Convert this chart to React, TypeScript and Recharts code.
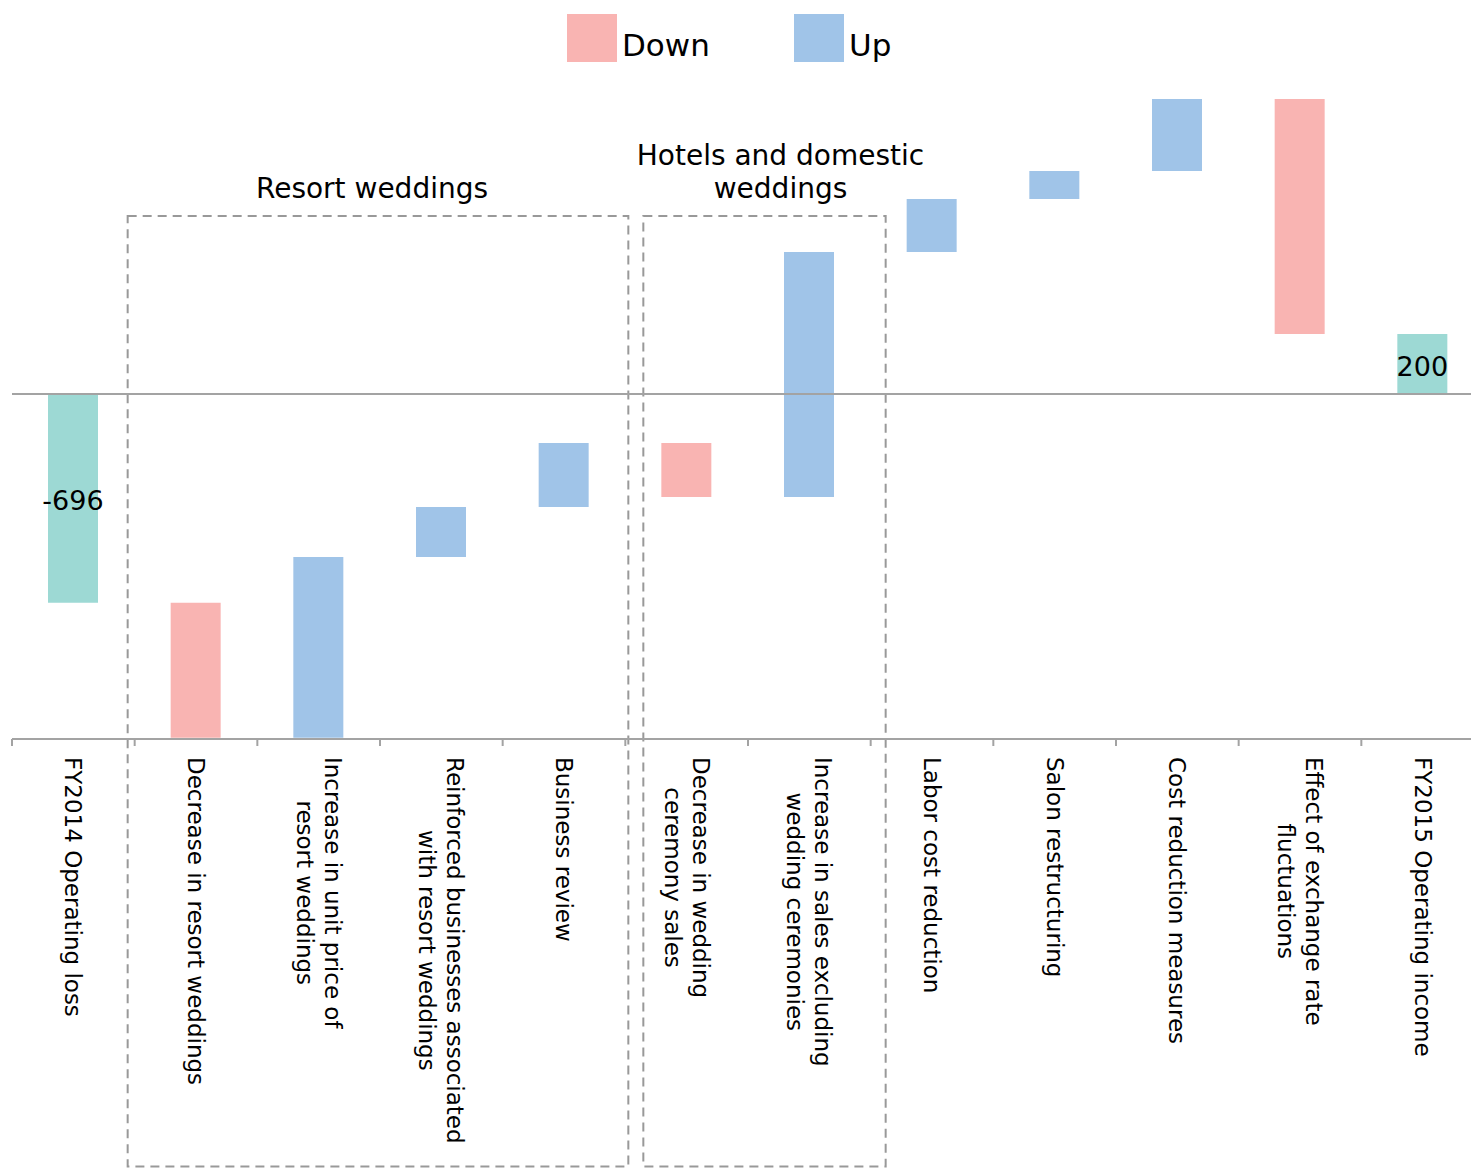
import React from 'react';
import {
  BarChart,
  Bar,
  Cell,
  XAxis,
  YAxis,
  ReferenceLine,
  ReferenceArea,
  LabelList,
} from 'recharts';

// Operating income bridge FY2014 -> FY2015 (million yen)
const CATEGORIES = [
  'FY2014 Operating loss',
  'Decrease in resort weddings',
  'Increase in unit price of\nresort weddings',
  'Reinforced businesses associated\nwith resort weddings',
  'Business review',
  'Decrease in wedding\nceremony sales',
  'Increase in sales excluding\nwedding ceremonies',
  'Labor cost reduction',
  'Salon restructuring',
  'Cost reduction measures',
  'Effect of exchange rate\nfluctuations',
  'FY2015 Operating income',
];
// totals are levels, the rest are changes
const KINDS = ['total', 'down', 'up', 'up', 'up', 'down', 'up', 'up', 'up', 'up', 'down', 'total'];
const VALUES = [-696, -450, 603, 166, 214, -180, 816, 177, 93, 240, -783, 200];

const LEGEND_KEYS = ['down', 'up'];
const LEGEND_NAMES = ['Down', 'Up'];

// dashed group frames
const GROUP_LABELS = [['Resort weddings'], ['Hotels and domestic', 'weddings']];
const GROUP_FROM = [1, 5];
const GROUP_TO = [4, 6];
const GROUP_TOP = 593;
const GROUP_BOTTOM = -2575;

const COLORS: Record<string, string> = {
  down: '#F9B4B2',
  up: '#A0C4E8',
  total: '#9DD9D4',
};
const AXIS_GRAY = '#A3A3A3';
const FRAME_GRAY = '#999999';
const FONT = '"DejaVu Sans", Verdana, sans-serif';

const CHART_W = 1488;
const CHART_H = 1168;
const MARGIN = { top: 94, right: 4, bottom: 0, left: 12 };
const BAND = (CHART_W - MARGIN.left - MARGIN.right) / CATEGORIES.length;
const TICK_SIZE = 23;
const TICK_LINE_H = 28;

// running levels -> [low, high] per bar
let level = 0;
const data = CATEGORIES.map((name, i) => {
  const v = VALUES[i];
  let lo: number;
  let hi: number;
  if (KINDS[i] === 'total') {
    lo = Math.min(0, v);
    hi = Math.max(0, v);
    level = v;
  } else {
    const end = level + v;
    lo = Math.min(level, end);
    hi = Math.max(level, end);
    level = end;
  }
  return {
    name,
    kind: KINDS[i],
    range: [lo, hi],
    label: KINDS[i] === 'total' ? v : null,
  };
});

let measureCtx: CanvasRenderingContext2D | null = null;
function textWidth(s: string, size: number) {
  if (!measureCtx) measureCtx = document.createElement('canvas').getContext('2d');
  measureCtx!.font = `${size}px ${FONT}`;
  return measureCtx!.measureText(s).width;
}

// vertical labels reading top to bottom, boundary tick marks between categories
const CategoryTick = (props: any) => {
  const { x, y, payload } = props;
  const lines = String(payload.value).split('\n');
  const longest = Math.max(...lines.map((l) => textWidth(l, TICK_SIZE)));
  const top = y + 18;
  const n = lines.length;
  return (
    <g>
      <line
        x1={x - BAND / 2}
        x2={x - BAND / 2}
        y1={y}
        y2={y + 7}
        stroke={AXIS_GRAY}
        strokeWidth={2}
      />
      <text
        transform={`translate(${x}, ${top + longest / 2}) rotate(90)`}
        textAnchor="middle"
        fontSize={TICK_SIZE}
        fontFamily={FONT}
        fill="#000"
      >
        {lines.map((l, i) => (
          <tspan
            key={i}
            x={0}
            y={i * TICK_LINE_H - ((n - 1) * TICK_LINE_H) / 2}
            dominantBaseline="central"
          >
            {l}
          </tspan>
        ))}
      </text>
    </g>
  );
};

const GROUP_PAD = [
  { left: -7, right: 3, dx: -6 },
  { left: 18, right: 15, dx: 16 },
];

const GroupBox = (props: any) => {
  const { x, y, width, height, group } = props;
  const pad = GROUP_PAD[group];
  const bx = x + pad.left;
  const bw = width - pad.left + pad.right;
  const cx = bx + bw / 2 + pad.dx;
  const lines = GROUP_LABELS[group];
  return (
    <g>
      <rect
        x={bx}
        y={y}
        width={bw}
        height={height}
        fill="none"
        stroke={FRAME_GRAY}
        strokeWidth={2}
        strokeDasharray="9 6"
      />
      <text textAnchor="middle" fontSize={28} fontFamily={FONT} fill="#000">
        {lines.map((l, i) => (
          <tspan
            key={i}
            x={cx}
            y={y - 28 - (lines.length - 1 - i) * 33}
            dominantBaseline="central"
          >
            {l}
          </tspan>
        ))}
      </text>
    </g>
  );
};

const TotalLabel = (props: any) => {
  const { x, y, width, height, value } = props;
  if (value === null || value === undefined) return null;
  return (
    <text
      x={x + width / 2}
      y={y + height / 2 + 2}
      textAnchor="middle"
      dominantBaseline="central"
      fontSize={27}
      fontFamily={FONT}
      fill="#000"
    >
      {value}
    </text>
  );
};

const TopLegend = () => (
  <div
    style={{
      position: 'absolute',
      left: 567,
      top: 13,
      display: 'flex',
      fontFamily: FONT,
      fontSize: 31,
      color: '#000',
    }}
  >
    {LEGEND_KEYS.map((k, i) => (
      <div key={k} style={{ display: 'flex', alignItems: 'center', width: 227 }}>
        <div style={{ width: 50, height: 48, background: COLORS[k] }} />
        <span style={{ marginLeft: 5, marginTop: 14 }}>{LEGEND_NAMES[i]}</span>
      </div>
    ))}
  </div>
);

export default function App() {
  return (
    <div
      style={{
        position: 'absolute',
        left: 0,
        top: 0,
        width: 1471,
        height: CHART_H,
        overflow: 'hidden',
        background: '#fff',
      }}
    >
      <BarChart width={CHART_W} height={CHART_H} data={data} margin={MARGIN}>
        <XAxis
          dataKey="name"
          interval={0}
          height={CHART_H - 739}
          tickLine={false}
          tickSize={0}
          tickMargin={0}
          axisLine={{ stroke: AXIS_GRAY, strokeWidth: 2 }}
          tick={<CategoryTick />}
        />
        <YAxis hide domain={[-1150, 1000]} allowDataOverflow />
        {GROUP_LABELS.map((_, g) => (
          <ReferenceArea
            key={g}
            x1={CATEGORIES[GROUP_FROM[g]]}
            x2={CATEGORIES[GROUP_TO[g]]}
            y1={GROUP_BOTTOM}
            y2={GROUP_TOP}
            ifOverflow="visible"
            shape={(p: any) => <GroupBox {...p} group={g} />}
          />
        ))}
        <ReferenceLine y={0} stroke={AXIS_GRAY} strokeWidth={2} />
        <Bar dataKey="range" barSize={50} isAnimationActive={false}>
          {data.map((d, i) => (
            <Cell key={i} fill={COLORS[d.kind]} />
          ))}
          <LabelList dataKey="label" content={<TotalLabel />} />
        </Bar>
      </BarChart>
      <TopLegend />
    </div>
  );
}
